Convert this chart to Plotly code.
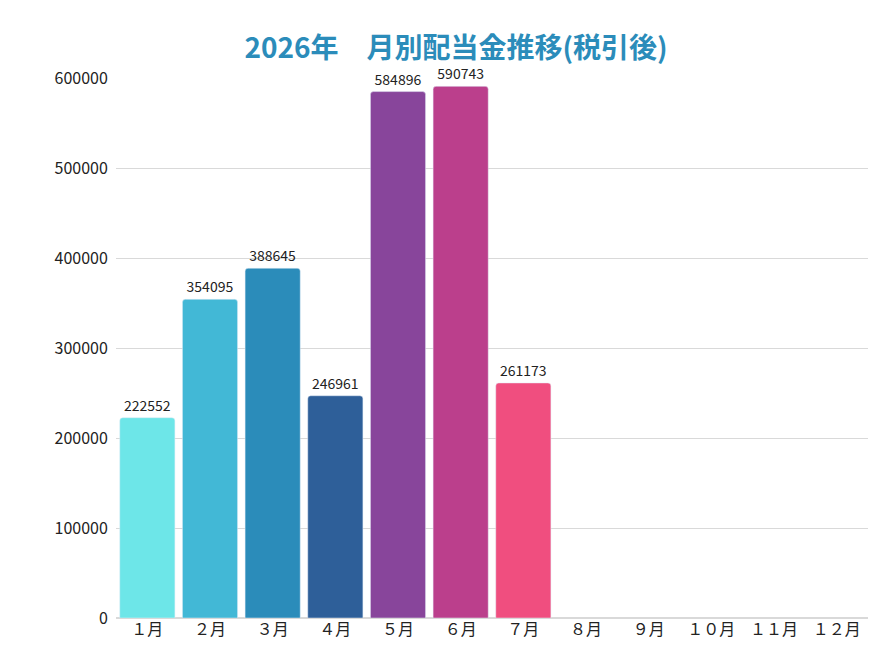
import plotly.graph_objects as go

months = ["１月","２月","３月","４月","５月","６月","７月","８月","９月","１０月","１１月","１２月"]
values = [222552, 354095, 388645, 246961, 584896, 590743, 261173, None, None, None, None, None]
colors = ["#6de6e8","#42b8d6","#2b8cba","#2e5f99","#88459b","#bb3f8c","#f04e7f","#cccccc","#cccccc","#cccccc","#cccccc","#cccccc"]
labels = [str(v) if v is not None else "" for v in values]

fig = go.Figure(go.Bar(
    x=months, y=values, marker_color=colors, text=labels, textposition="outside",
    textfont=dict(size=14, color="#222"), cliponaxis=False,
    marker=dict(cornerradius=3), width=0.88,
))
fig.update_layout(
    width=896, height=672, paper_bgcolor="white", plot_bgcolor="white",
    margin=dict(l=108, r=36, t=70, b=62, autoexpand=False),
    font=dict(family="Noto Sans CJK JP, Noto Sans", size=15, color="#222"),
    title=dict(text="<b>2026年　月別配当金推移(税引後)</b>", x=0.5, xanchor="center", y=0.955,
               font=dict(size=28, color="#2b8cba", family="Noto Sans CJK JP")),
    showlegend=False,
    xaxis=dict(showline=False, ticks="", tickfont=dict(size=16), automargin=False),
    yaxis=dict(range=[0, 600000], dtick=100000, gridcolor="#d9d9d9", zeroline=True,
               zerolinecolor="#d9d9d9", tickformat="d", tickfont=dict(size=16),
               ticksuffix="  ", automargin=False),
)
fig.write_html("out.html")
